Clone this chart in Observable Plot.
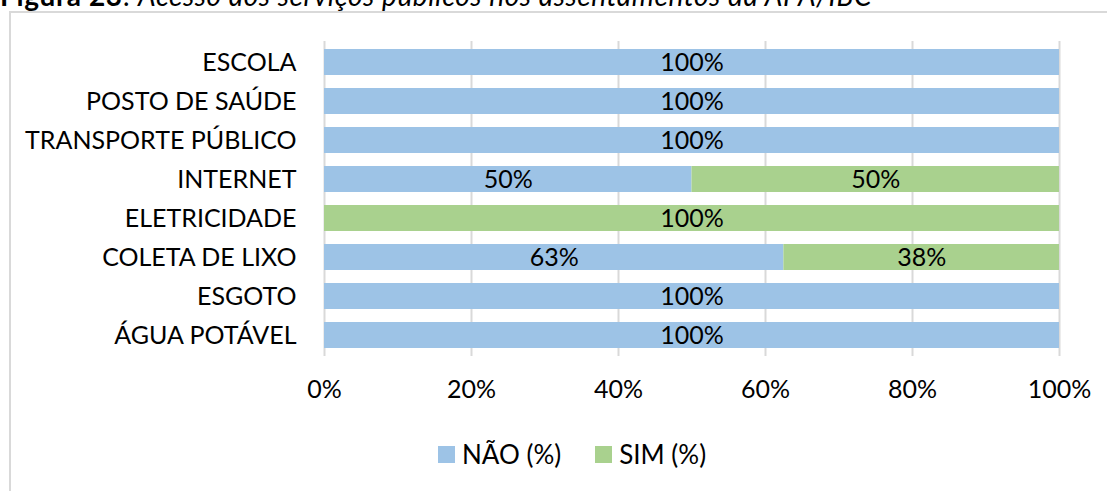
<!DOCTYPE html>
<html>
<head>
<meta charset="utf-8">
<script src="https://cdn.jsdelivr.net/npm/d3@7"></script>
<script src="https://cdn.jsdelivr.net/npm/@observablehq/plot@0.6"></script>
<style>
  html, body { margin: 0; padding: 0; background: #fff; }
  #wrap { position: relative; width: 1107px; height: 491px; overflow: hidden; font-family: Lato, "Open Sans", sans-serif; }
  #title { position: absolute; left: 0; top: -19px; font-family: Lato, "Open Sans", sans-serif; font-size: 28px; line-height: 28px; letter-spacing: 0.6px; white-space: nowrap; color: #000; }
  #frame { position: absolute; left: 9px; top: 11px; width: 1200px; height: 600px; border-left: 2px solid #d9d9d9; border-top: 2px solid #d9d9d9; }
  #chart { position: absolute; left: 0; top: 0; }
  #legend { position: absolute; left: 438px; top: 438px; display: flex; align-items: center; font-size: 26px; color: #000; }
  .sw { width: 17px; height: 17px; display: inline-block; margin-right: 7px; }
  .item { display: flex; align-items: center; margin-right: 34px; }
</style>
</head>
<body>
<div id="wrap">
  <div id="title"><b>Figura 23</b>: <i>Acesso aos serviços públicos nos assentamentos da APA/IBC</i></div>
  <div id="frame"></div>
  <div id="chart"></div>
  <div id="legend"></div>
</div>
<script>
const categories = ["ESCOLA", "POSTO DE SAÚDE", "TRANSPORTE PÚBLICO", "INTERNET", "ELETRICIDADE", "COLETA DE LIXO", "ESGOTO", "ÁGUA POTÁVEL"];
const seriesNames = ["NÃO (%)", "SIM (%)"];
const naoValues = [100, 100, 100, 50, 0, 62.5, 100, 100];
const simValues = [0, 0, 0, 50, 100, 37.5, 0, 0];
const seriesColors = ["#9dc3e6", "#a9d18e"];
const xTicks = [0, 20, 40, 60, 80, 100];

const data = [];
categories.forEach((c, i) => {
  data.push({cat: c, serie: seriesNames[0], value: naoValues[i]});
  data.push({cat: c, serie: seriesNames[1], value: simValues[i]});
});
const labeled = data.filter(d => d.value > 0);

const plot = Plot.plot({
  width: 1107,
  height: 420,
  marginLeft: 324,
  marginRight: 48,
  marginTop: 41,
  marginBottom: 64,
  style: {fontFamily: "Lato, 'Open Sans', sans-serif", fontSize: "25px", color: "#000", background: "transparent"},
  x: {domain: [0, 100]},
  y: {domain: categories, paddingInner: 0.34, paddingOuter: 0.17},
  color: {domain: seriesNames, range: seriesColors},
  marks: [
    Plot.gridX(xTicks, {stroke: "#d9d9d9", strokeOpacity: 1, strokeWidth: 2}),
    Plot.barX(data, {x: "value", y: "cat", fill: "serie", order: seriesNames}),
    Plot.text(labeled, Plot.stackX({x: "value", y: "cat", z: "serie", order: seriesNames, text: d => Math.round(d.value) + "%", fill: "#000", fontSize: 25})),
    Plot.axisY({tickSize: 0, tickPadding: 28, fontSize: 25, label: null}),
    Plot.axisX(xTicks, {tickSize: 0, tickPadding: 24, fontSize: 25, tickFormat: d => d + "%", label: null})
  ]
});
document.getElementById("chart").appendChild(plot);

const legend = document.getElementById("legend");
seriesNames.forEach((s, i) => {
  const item = document.createElement("div");
  item.className = "item";
  const sw = document.createElement("span");
  sw.className = "sw";
  sw.style.background = seriesColors[i];
  item.appendChild(sw);
  item.appendChild(document.createTextNode(s));
  legend.appendChild(item);
});
</script>
</body>
</html>
